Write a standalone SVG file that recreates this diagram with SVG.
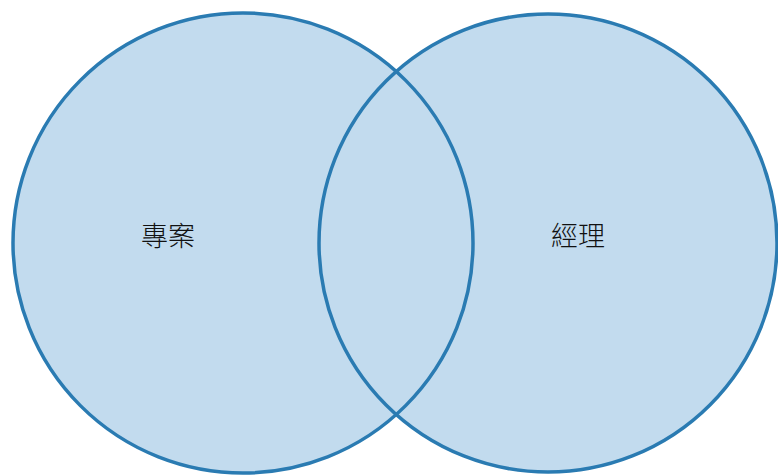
<svg xmlns="http://www.w3.org/2000/svg" width="778" height="476" viewBox="0 0 778 476">
<style>
.fill{fill:#c2dbee;stroke:none}
.ring{fill:none;stroke:#2a7bb2;stroke-width:3.5}
.lbl{font-family:"Noto Sans CJK TC","Noto Sans CJK SC",sans-serif;font-size:27px;font-weight:300;fill:#111;text-anchor:middle;dominant-baseline:central}
</style>
<rect width="778" height="476" fill="#ffffff"/>
<g id="fills">
<circle class="fill" cx="243" cy="243" r="230"/>
<circle class="fill" cx="548" cy="243" r="229"/>
</g>
<g id="left">
<circle class="ring" cx="243" cy="243" r="230"/>
<text class="lbl" x="168" y="234">專案</text>
</g>
<g id="right">
<circle class="ring" cx="548" cy="243" r="229"/>
<text class="lbl" x="578" y="234">經理</text>
</g>
</svg>
